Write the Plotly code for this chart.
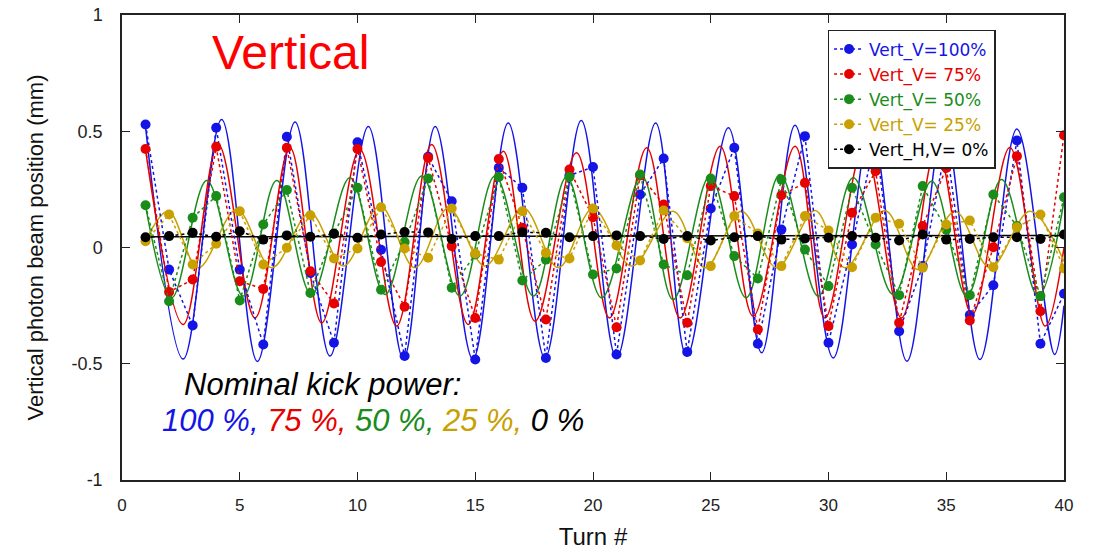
import plotly.graph_objects as go

# ---------------- data ----------------
turns = list(range(1, 41))

blue_100 = [0.529, -0.095, -0.335, 0.515, -0.095, -0.417, 0.476, -0.11, -0.410, 0.453,
            -0.010, -0.467, 0.39, 0.199, -0.482, 0.343, 0.257, -0.475, 0.31, 0.346,
            -0.460, 0.228, 0.383, -0.449, 0.168, 0.429, -0.414, 0.077, 0.479, -0.410,
            0.013, 0.47, -0.360, -0.08, 0.44, -0.29, -0.162, 0.46, -0.414, -0.199]
red_75 = [0.424, -0.191, -0.138, 0.433, -0.145, -0.178, 0.429, -0.102, -0.241, 0.424,
          -0.062, -0.255, 0.386, 0.006, -0.303, 0.381, 0.085, -0.310, 0.335, 0.130,
          -0.343, 0.31, 0.185, -0.324, 0.264, 0.221, -0.353, 0.225, 0.278, -0.338,
          0.149, 0.328, -0.324, 0.092, 0.342, -0.314, 0.001, 0.393, -0.274, 0.483]
green_50 = [0.182, -0.231, 0.128, 0.221, -0.228, 0.099, 0.247, -0.196, 0.06, 0.257,
            -0.182, 0.024, 0.297, -0.173, -0.03, 0.303, -0.142, -0.052, 0.303, -0.116,
            -0.090, 0.314, -0.073, -0.119, 0.297, -0.037, -0.133, 0.292, -0.009, -0.166,
            0.257, 0.013, -0.205, 0.264, 0.077, -0.205, 0.228, 0.092, -0.209, 0.216]
gold_25 = [0.027, 0.142, -0.073, 0.016, 0.156, -0.073, -0.001, 0.139, -0.047, -0.004,
           0.173, -0.004, -0.044, 0.168, -0.026, -0.052, 0.156, -0.023, -0.047, 0.168,
           0.009, -0.056, 0.159, 0.04, -0.080, 0.135, 0.06, -0.080, 0.135, 0.073,
           -0.085, 0.128, 0.102, -0.087, 0.099, 0.116, -0.085, 0.087, 0.142, -0.090]
black_0 = [0.044, 0.049, 0.063, 0.046, 0.070, 0.034, 0.052, 0.046, 0.059, 0.042,
           0.056, 0.067, 0.065, 0.037, 0.049, 0.049, 0.066, 0.063, 0.044, 0.049,
           0.052, 0.049, 0.037, 0.049, 0.030, 0.044, 0.049, 0.034, 0.039, 0.042,
           0.049, 0.042, 0.030, 0.056, 0.034, 0.037, 0.044, 0.044, 0.037, 0.056]

# fit curves: extrema
blue_fit_x = [1, 2.6, 4.23, 5.75, 7.35, 8.83, 10.46, 11.95, 13.3, 14.9, 16.4, 17.96, 19.5,
              21.0, 22.66, 23.98, 25.75, 27.16, 28.58, 30.2, 31.8, 33.33, 34.9, 36.43, 38.0, 39.6, 40]
blue_fit_y = [0.52, -0.48, 0.55, -0.49, 0.54, -0.467, 0.52, -0.48, 0.52, -0.48, 0.536, -0.475, 0.546,
              -0.475, 0.536, -0.467, 0.515, -0.453, 0.526, -0.475, 0.52, -0.489, 0.52, -0.482, 0.51, -0.46, -0.25]
red_fit_x = [1, 2.6, 4.09, 5.65, 7.13, 8.48, 10.1, 11.66, 13.15, 14.7, 16.19, 17.54, 19.3,
             20.7, 22.28, 23.7, 25.4, 26.8, 28.58, 29.85, 31.5, 33.1, 34.6, 36.1, 37.7, 39.2, 40]
red_fit_y = [0.42, -0.331, 0.443, -0.303, 0.43, -0.324, 0.421, -0.338, 0.443, -0.331, 0.414, -0.317, 0.407,
             -0.303, 0.429, -0.303, 0.436, -0.295, 0.436, -0.303, 0.43, -0.303, 0.43, -0.288, 0.43, -0.338, 0.0]
green_fit_x = [1, 2.11, 3.6, 5.15, 6.57, 8.05, 9.68, 11.17, 12.73, 14.35, 15.84, 17.47, 18.88,
               20.37, 22.07, 23.4, 24.97, 26.5, 27.94, 29.57, 31.05, 32.75, 34.38, 35.87, 37.35, 38.9, 40]
green_fit_y = [0.18, -0.216, 0.288, -0.209, 0.288, -0.202, 0.30, -0.202, 0.307, -0.209, 0.307, -0.209, 0.303,
               -0.216, 0.307, -0.224, 0.307, -0.216, 0.314, -0.209, 0.30, -0.202, 0.285, -0.209, 0.293, -0.209, 0.2]
gold_fit_x = [1, 1.97, 3.24, 4.87, 6.36, 7.98, 9.4, 10.96, 12.44, 13.86, 15.41, 17.04, 18.53,
              20.0, 21.64, 23.4, 24.76, 26.3, 27.8, 29.43, 30.7, 32.4, 33.8, 35.37, 36.86, 38.56, 40]
gold_fit_y = [0.03, 0.156, -0.087, 0.163, -0.087, 0.149, -0.08, 0.178, -0.087, 0.17, -0.08, 0.17, -0.087,
              0.168, -0.08, 0.156, -0.087, 0.156, -0.087, 0.159, -0.087, 0.159, -0.095, 0.156, -0.087, 0.156, -0.06]
black_fit_x = [1, 40]
black_fit_y = [0.046, 0.052]

series_names = ["Vert_V=100%", "Vert_V= 75%", "Vert_V= 50%", "Vert_V= 25%", "Vert_H,V= 0%"]
power_labels = ["100 %,", " 75 %,", " 50 %,", " 25 %,", " 0 %"]
x_ticks = [0, 5, 10, 15, 20, 25, 30, 35, 40]
y_ticks = [-1, -0.5, 0, 0.5, 1]
y_ticktext = ["-1", "-0.5", "0", "0.5", "1"]

# ---------------- styling ----------------
colors = ["#1414e6", "#e60000", "#1a8c1a", "#c8a000", "#000000"]
FONT = "Liberation Sans, Arial, sans-serif"
LEG_FONT = "DejaVu Sans, Verdana, sans-serif"

marker_series = [blue_100, red_75, green_50, gold_25, black_0]
fits = [(blue_fit_x, blue_fit_y), (red_fit_x, red_fit_y), (green_fit_x, green_fit_y),
        (gold_fit_x, gold_fit_y), (black_fit_x, black_fit_y)]

fig = go.Figure()

for (fx, fy), c in zip(fits, colors):
    fig.add_trace(go.Scatter(x=fx, y=fy, mode="lines",
                             line=dict(color=c, width=1.5, shape="spline", smoothing=1),
                             showlegend=False, hoverinfo="skip"))

for vals, name, c in zip(marker_series, series_names, colors):
    fig.add_trace(go.Scatter(x=turns, y=vals, mode="lines+markers",
                             name=f"<span style='color:{c}'>{name}</span>",
                             line=dict(color=c, width=1.5, dash="dot"),
                             marker=dict(color=c, size=10)))

axis_common = dict(showline=True, linecolor="#222", linewidth=1.5, mirror="ticks",
                   ticks="inside", ticklen=8, tickcolor="#222", showgrid=False, zeroline=False,
                   automargin=False)

fig.update_xaxes(range=[0, 40], tickvals=x_ticks, ticklabelstandoff=9,
                 tickfont=dict(family=FONT, size=17, color="#222"),
                 title=dict(text="Turn #", font=dict(family=FONT, size=24, color="#111"), standoff=14),
                 **axis_common)
fig.update_yaxes(range=[-1, 1], tickvals=y_ticks, ticktext=y_ticktext, ticklabelstandoff=14,
                 tickfont=dict(family=FONT, size=18, color="#222"),
                 title=dict(text="Vertical photon beam position (mm)",
                            font=dict(family=FONT, size=22, color="#111"), standoff=22),
                 **axis_common)

second_line = "".join(f"<span style='color:{c}'>{t}</span>" for t, c in zip(power_labels, colors))

fig.update_layout(
    width=1094, height=552,
    margin=dict(l=122, r=30, t=15, b=72, autoexpand=False),
    paper_bgcolor="white", plot_bgcolor="white",
    font=dict(family=FONT),
    legend=dict(x=0.749, y=0.968, xanchor="left", yanchor="top",
                bgcolor="white", bordercolor="#222", borderwidth=1.5,
                font=dict(family=LEG_FONT, size=17), tracegroupgap=0),
    annotations=[
        dict(text="Vertical", xref="paper", yref="paper", x=0.0934, y=0.92,
             xanchor="left", yanchor="middle", showarrow=False,
             font=dict(family=FONT, size=48, color="#ff0000")),
        dict(text="<i>Nominal kick power:</i>", xref="paper", yref="paper", x=0.0637, y=0.206,
             xanchor="left", yanchor="middle", showarrow=False,
             font=dict(family=FONT, size=31, color="#000")),
        dict(text="<i>" + second_line + "</i>", xref="paper", yref="paper", x=0.0403, y=0.129,
             xanchor="left", yanchor="middle", showarrow=False,
             font=dict(family=FONT, size=31, color="#000")),
    ],
)

fig.write_html("out.html")
